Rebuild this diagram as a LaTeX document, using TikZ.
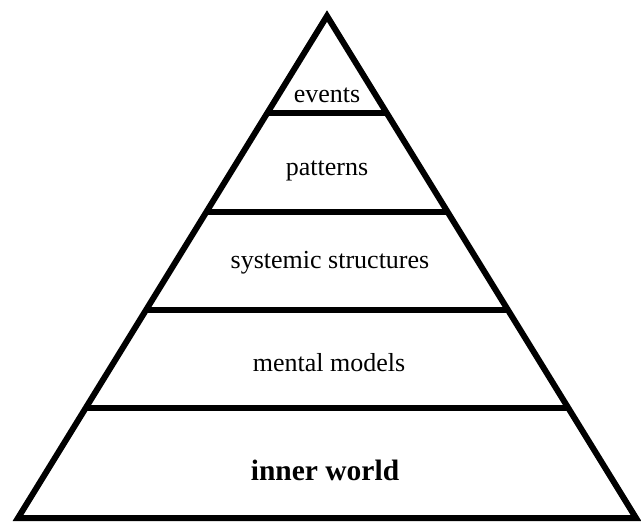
\documentclass[tikz,border=0pt]{standalone}
\usepackage{fontspec}
\setmainfont{Liberation Serif}
\usetikzlibrary{calc}
\begin{document}
\begin{tikzpicture}[x=1pt,y=-1pt,
  edge/.style={line width=6pt,line join=miter},
  lbl/.style={font=\fontsize{26}{30}\selectfont,inner sep=0pt},
  boldlbl/.style={font=\fontsize{29.5}{34}\selectfont\bfseries,inner sep=0pt}]
\useasboundingbox (0,0) rectangle (641,524);
\coordinate (apex) at (327,16);
\coordinate (bl) at (18,518);
\coordinate (br) at (636,518);
\draw[edge] (apex) -- (br) -- (bl) -- cycle;
\foreach \t/\n in {0.1932/a,0.3904/b,0.5857/c,0.7809/d}{
  \coordinate (l\n) at ($(apex)!\t!(bl)$);
  \coordinate (r\n) at ($(apex)!\t!(br)$);
  \draw[edge,line cap=butt] (l\n) -- (r\n);
}
\node[lbl] (events) at (327,95) {events};
\node[lbl] (patterns) at (327,171) {patterns};
\node[lbl] (systemic) at (330,263) {systemic structures};
\node[lbl] (mental) at (329,363) {mental models};
\node[boldlbl] (inner) at (325,470) {inner world};
\end{tikzpicture}
\end{document}
